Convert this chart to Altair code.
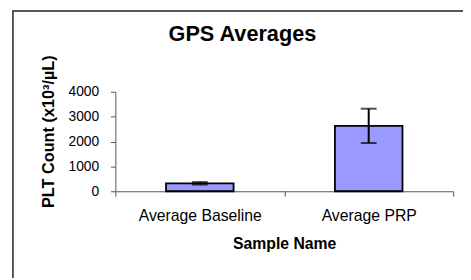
import altair as alt
import pandas as pd

categories = ["Average Baseline", "Average PRP"]
means = [320, 2630]
errors = [50, 690]
y_ticks = [0, 1000, 2000, 3000, 4000]
title_text = ["GPS Averages"]

df = pd.DataFrame({
    "cat": categories,
    "mean": means,
    "lo": [m - e for m, e in zip(means, errors)],
    "hi": [m + e for m, e in zip(means, errors)],
})

FONT = "Liberation Sans"

x_axis = alt.Axis(title="Sample Name", labelAngle=0, tickBand="extent",
                  labelFontSize=16, labelFont=FONT, labelColor="black",
                  titleFontSize=16, titleFont=FONT, titleFontWeight="bold",
                  titleColor="black", titleY=58, titleBaseline="alphabetic",
                  labelPadding=12, tickSize=5, domainColor="#555",
                  tickColor="#555", labelOverlap=False)
y_axis = alt.Axis(title="PLT Count (x10³/µL)", values=y_ticks, tickCount=10,
                  format="d", labelOverlap=False,
                  grid=False, labelFontSize=14, labelFont=FONT, labelColor="black",
                  titleFontSize=16.5, titleFont=FONT, titleFontWeight="bold",
                  titleColor="black", titleAngle=-90, titleX=-68, titleY=40,
                  titleBaseline="middle", titleAlign="center",
                  labelPadding=12, tickSize=5, domainColor="#555",
                  tickColor="#555")
x_scale = alt.Scale(paddingInner=0, paddingOuter=0)
y_scale = alt.Scale(domain=[0, 4000], nice=False)

def X():
    return alt.X("cat:N", sort=categories, scale=x_scale, axis=x_axis)

def Y(field):
    return alt.Y(field, scale=y_scale, axis=y_axis)

base = alt.Chart(df)

border = alt.Chart(pd.DataFrame({"d": [0]})).mark_rect(
    fill="transparent", stroke="#222", strokeWidth=1.5
).encode(x=alt.value(-104), x2=alt.value(400), y=alt.value(-82), y2=alt.value(300))

bars = base.mark_bar(width={"band": 0.4}, color="#9999FF", stroke="black",
                     strokeWidth=1.8).encode(x=X(), y=Y("mean:Q"))
rules = base.mark_rule(color="black", strokeWidth=2).encode(
    x=X(), y=Y("lo:Q"), y2="hi:Q")
caps_hi = base.mark_tick(color="black", thickness=2, size=16, orient="horizontal").encode(
    x=X(), y=Y("hi:Q"))
caps_lo = base.mark_tick(color="black", thickness=2, size=16, orient="horizontal").encode(
    x=X(), y=Y("lo:Q"))

title = alt.Chart(pd.DataFrame({"t": title_text})).mark_text(
    font=FONT, fontSize=22, fontWeight="bold", color="black", baseline="alphabetic"
).encode(text="t:N", x=alt.value(129), y=alt.value(-52))

chart = alt.layer(border, bars, rules, caps_hi, caps_lo, title).properties(
    width=343, height=101,
    autosize=alt.AutoSizeParams(type="none"),
    padding={"left": 109, "top": 83, "right": 10, "bottom": 86},
    background="white",
).configure_view(stroke=None)

chart.save("out.html", embed_options={"renderer": "svg", "actions": False})
